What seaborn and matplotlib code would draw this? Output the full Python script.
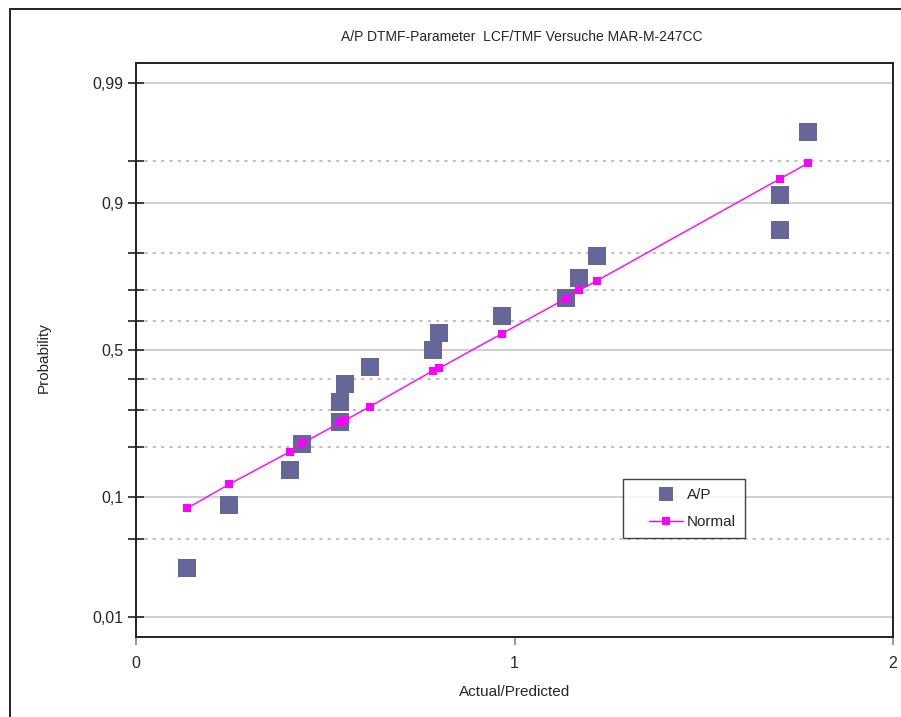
import numpy as np
import pandas as pd
import seaborn as sns
import matplotlib
matplotlib.use("Agg")
import matplotlib.pyplot as plt
from matplotlib.patches import Rectangle
from matplotlib.lines import Line2D
from matplotlib.legend_handler import HandlerLine2D
from statistics import NormalDist

# values
ratio = [0.135, 0.246, 0.407, 0.439, 0.540, 0.540, 0.552, 0.618, 0.785,
         0.800, 0.967, 1.136, 1.170, 1.218, 1.701, 1.701, 1.775]
prob_ap = [0.029, 0.088, 0.147, 0.206, 0.265, 0.324, 0.382, 0.441, 0.500,
           0.559, 0.618, 0.676, 0.735, 0.794, 0.853, 0.912, 0.971]
prob_normal = [0.084, 0.121, 0.188, 0.208, 0.264, 0.264, 0.270, 0.311, 0.429,
               0.436, 0.557, 0.673, 0.698, 0.727, 0.932, 0.932, 0.948]
major_p = [0.01, 0.1, 0.5, 0.9, 0.99]
major_lbl = ["0,01", "0,1", "0,5", "0,9", "0,99"]
minor_p = [0.05, 0.2, 0.3, 0.4, 0.6, 0.7, 0.8, 0.95]

df = pd.DataFrame({"x": ratio, "ap": prob_ap, "normal": prob_normal})

_nd = NormalDist()
_ppf = np.vectorize(lambda v: _nd.inv_cdf(v) if np.isfinite(v) else np.nan, otypes=[float])
_cdf = np.vectorize(lambda v: _nd.cdf(v) if np.isfinite(v) else np.nan, otypes=[float])

def probit(p):
    p = np.clip(np.asarray(p, dtype=float), 1e-9, 1 - 1e-9)
    return _ppf(p)

def inv_probit(z):
    return _cdf(np.asarray(z, dtype=float))

sns.set_theme(style="white")
plt.rcParams["font.family"] = ["Liberation Sans Narrow", "Liberation Sans", "DejaVu Sans"]

fig = plt.figure(figsize=(9.01, 7.17), dpi=100)
ax = fig.add_axes([136 / 901, 80 / 717, 757 / 901, 574 / 717])

# outer chart border
fig.patches.append(Rectangle((10 / 901, -0.1), 1.2, 1.1 - 8.5 / 717, transform=fig.transFigure,
                             fill=False, edgecolor="#222222", linewidth=1.4))

ax.set_yscale("function", functions=(probit, inv_probit))
ax.set_ylim(inv_probit(-2.5), inv_probit(2.5))
ax.set_xlim(0, 2)

ax.set_yticks(major_p)
ax.set_yticklabels(major_lbl)
ax.set_yticks(minor_p, minor=True)
ax.set_yticklabels([], minor=True)
ax.set_xticks([0, 1, 2])
ax.set_xticklabels(["0", "1", "2"])

ax.grid(True, which="major", axis="y", color="#c8c8c8", linewidth=1.2, linestyle="-")
ax.grid(True, which="minor", axis="y", color="#b8b8b8", linewidth=1.2, linestyle=(0, (2, 3)))
ax.grid(False, axis="x")
ax.set_axisbelow(True)

ax.tick_params(axis="y", which="both", direction="inout", length=12, width=1.2,
               color="#222222", labelsize=11.5, pad=3, left=True)
ax.tick_params(axis="x", which="major", direction="out", length=6, width=1.2,
               color="#888888", labelsize=11.5, pad=8, bottom=True)
ax.tick_params(axis="x", which="minor", bottom=False)
for s in ax.spines.values():
    s.set_color("#222222")
    s.set_linewidth(1.4)

sns.lineplot(data=df, x="x", y="normal", ax=ax, color="#ff00ff", linewidth=1.0,
             marker="s", markersize=5.5, markeredgewidth=0, estimator=None, sort=False,
             zorder=3)
sns.scatterplot(data=df, x="x", y="ap", ax=ax, color="#666699", marker="s", s=150,
                linewidth=0, zorder=2)

ax.set_xlabel("Actual/Predicted", fontsize=11)
ax.set_ylabel("Probability", fontsize=11)
ax.yaxis.set_label_coords(-(136 - 51) / 757, (717 - 358 - 80) / 574)
ax.xaxis.set_label_coords(0.5, -(685 - 637) / 574)
fig.text(522 / 901, 1 - 37 / 717, "A/P DTMF-Parameter  LCF/TMF Versuche MAR-M-247CC",
         ha="center", va="center", fontsize=10)

handles = [Line2D([], [], linestyle="none", marker="s", markersize=10, color="#666699",
                  markeredgewidth=0),
           Line2D([], [], color="#ff00ff", linewidth=1.0, marker="s", markersize=5.5,
                  markeredgewidth=0)]
hmap = {h: HandlerLine2D(xpad=1.1) for h in handles}
leg = ax.legend(handles, ["A/P", "Normal"], loc="upper left", handler_map=hmap,
                bbox_to_anchor=(623 / 901, 1 - 479 / 717), bbox_transform=fig.transFigure,
                borderaxespad=0, fancybox=False, frameon=True, fontsize=11,
                handlelength=3.35, handletextpad=0.25, borderpad=0.6, labelspacing=0.85)
leg.get_frame().set_edgecolor("#111111")
leg.get_frame().set_linewidth(1.0)

fig.savefig("out.png", dpi=100)
